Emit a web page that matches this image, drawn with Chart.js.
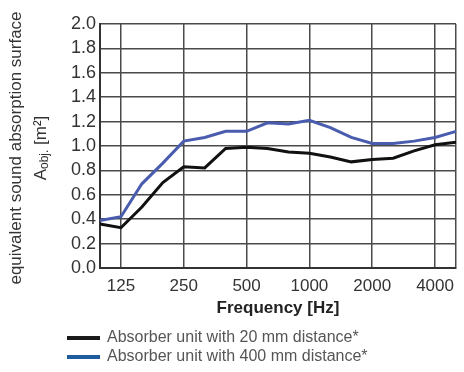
<!DOCTYPE html>
<html>
<head>
<meta charset="utf-8">
<script src="https://cdn.jsdelivr.net/npm/chart.js@4/dist/chart.umd.min.js"></script>
<style>
  html, body { margin: 0; padding: 0; background: #fff; }
  #wrap { width: 464px; height: 372px; position: relative; }
</style>
</head>
<body>
<div id="wrap"><canvas id="absorptionChart"></canvas></div>
<script>
// Terzbänder 100 Hz - 5000 Hz
const bands = ['100', '125', '160', '200', '250', '315', '400', '500', '630', '800',
               '1000', '1250', '1600', '2000', '2500', '3150', '4000', '5000'];
// nur diese Beschriftungen / Gitterlinien werden angezeigt
const octaveLabels = ['125', '250', '500', '1000', '2000', '4000'];

// A_obj in m²
const dist20mm  = [0.36, 0.33, 0.50, 0.70, 0.83, 0.82, 0.98, 0.99, 0.98, 0.95,
                   0.94, 0.91, 0.87, 0.89, 0.90, 0.96, 1.01, 1.03];
const dist400mm = [0.39, 0.42, 0.69, 0.86, 1.04, 1.07, 1.12, 1.12, 1.19, 1.18,
                   1.21, 1.15, 1.07, 1.02, 1.02, 1.04, 1.07, 1.12];

const seriesNames = ['Absorber unit with 20 mm distance*', 'Absorber unit with 400 mm distance*'];
const yTitleLine1 = 'equivalent sound absorption surface';
const xTitle = 'Frequency [Hz]';

const FONT = "'Liberation Sans', Arial, sans-serif";
const GRID = '#4a4a4a';

// Y-Achsentitel mit tiefgestelltem "obj."
const yTitlePlugin = {
    id: 'yTitlePlugin',
    afterDraw(chart) {
        const ctx = chart.ctx;
        const area = chart.chartArea;
        const cy = (area.top + area.bottom) / 2 + 2;
        ctx.save();
        ctx.fillStyle = '#333';
        ctx.textBaseline = 'middle';
        ctx.translate(16, cy);
        ctx.rotate(-Math.PI / 2);
        ctx.font = '17px ' + FONT;
        ctx.textAlign = 'center';
        ctx.fillText(yTitleLine1, 0, 0);

        // zweite Zeile: A_obj. [m²]
        const big = '17px ' + FONT;
        const small = '12px ' + FONT;
        ctx.font = big;
        const wA = ctx.measureText('A').width;
        const wUnit = ctx.measureText(' [m²]').width;
        ctx.font = small;
        const wSub = ctx.measureText('obj.').width;
        let x = -(wA + wSub + wUnit) / 2;
        const y2 = 25;
        ctx.textAlign = 'left';
        ctx.font = big;
        ctx.fillText('A', x, y2);
        x += wA;
        ctx.font = small;
        ctx.fillText('obj.', x, y2 + 4);
        x += wSub;
        ctx.font = big;
        ctx.fillText(' [m²]', x, y2);
        ctx.restore();
    }
};

// Legende unten links, eine Zeile pro Datensatz
const legendPlugin = {
    id: 'legendPlugin',
    afterDraw(chart, args, opts) {
        const ctx = chart.ctx;
        ctx.save();
        ctx.font = '16px ' + FONT;
        ctx.textBaseline = 'middle';
        ctx.textAlign = 'left';
        chart.data.datasets.forEach((ds, i) => {
            const y = opts.top + i * opts.rowHeight;
            ctx.strokeStyle = opts.colors[i];
            ctx.lineWidth = 4;
            ctx.beginPath();
            ctx.moveTo(opts.left, y);
            ctx.lineTo(opts.left + 33, y);
            ctx.stroke();
            ctx.fillStyle = '#555';
            ctx.fillText(ds.label, opts.left + 40, y);
        });
        ctx.restore();
    }
};

const ctx = document.getElementById('absorptionChart').getContext('2d');
const absorptionChart = new Chart(ctx, {
    type: 'line',
    data: {
        labels: bands,
        datasets: [{
            label: seriesNames[0],
            data: dist20mm,
            borderColor: '#111',
            borderWidth: 3,
            pointRadius: 0,
            tension: 0
        }, {
            label: seriesNames[1],
            data: dist400mm,
            borderColor: '#4a5cae',
            borderWidth: 3,
            pointRadius: 0,
            tension: 0
        }]
    },
    options: {
        responsive: true,
        maintainAspectRatio: false,
        animation: false,
        layout: { padding: { top: 24, right: 3, left: 0, bottom: 0 } },
        plugins: {
            legend: { display: false },
            tooltip: { enabled: false },
            legendPlugin: {
                left: 67,
                top: 338,
                rowHeight: 19,
                colors: ['#1a1a1a', '#1f5c9e']
            }
        },
        scales: {
            x: {
                offset: false,
                grid: {
                    drawTicks: false,
                    lineWidth: 1.5,
                    color: c => {
                        const lbl = bands[c.index];
                        return (octaveLabels.includes(lbl) || c.index === bands.length - 1) ? GRID : 'rgba(0,0,0,0)';
                    }
                },
                border: { color: '#333', width: 2 },
                ticks: {
                    autoSkip: false,
                    maxRotation: 0,
                    padding: 8,
                    color: '#333',
                    font: { family: FONT, size: 17 },
                    callback: function (v, i) {
                        const lbl = bands[i];
                        return octaveLabels.includes(lbl) ? lbl : '';
                    }
                },
                title: {
                    display: true,
                    text: xTitle,
                    color: '#222',
                    font: { family: FONT, size: 17, weight: 'bold' },
                    padding: { top: 0, bottom: 53 }
                },
                afterFit: scale => { scale.height = 104; }
            },
            y: {
                min: 0,
                max: 2,
                grid: {
                    drawTicks: false,
                    lineWidth: 1.5,
                    color: GRID
                },
                border: { color: '#333', width: 2 },
                ticks: {
                    stepSize: 0.2,
                    autoSkip: false,
                    padding: 4,
                    color: '#333',
                    font: { family: FONT, size: 18 },
                    callback: v => v.toFixed(1)
                },
                afterFit: scale => { scale.width = 100; }
            }
        }
    },
    plugins: [yTitlePlugin, legendPlugin]
});
</script>
</body>
</html>
